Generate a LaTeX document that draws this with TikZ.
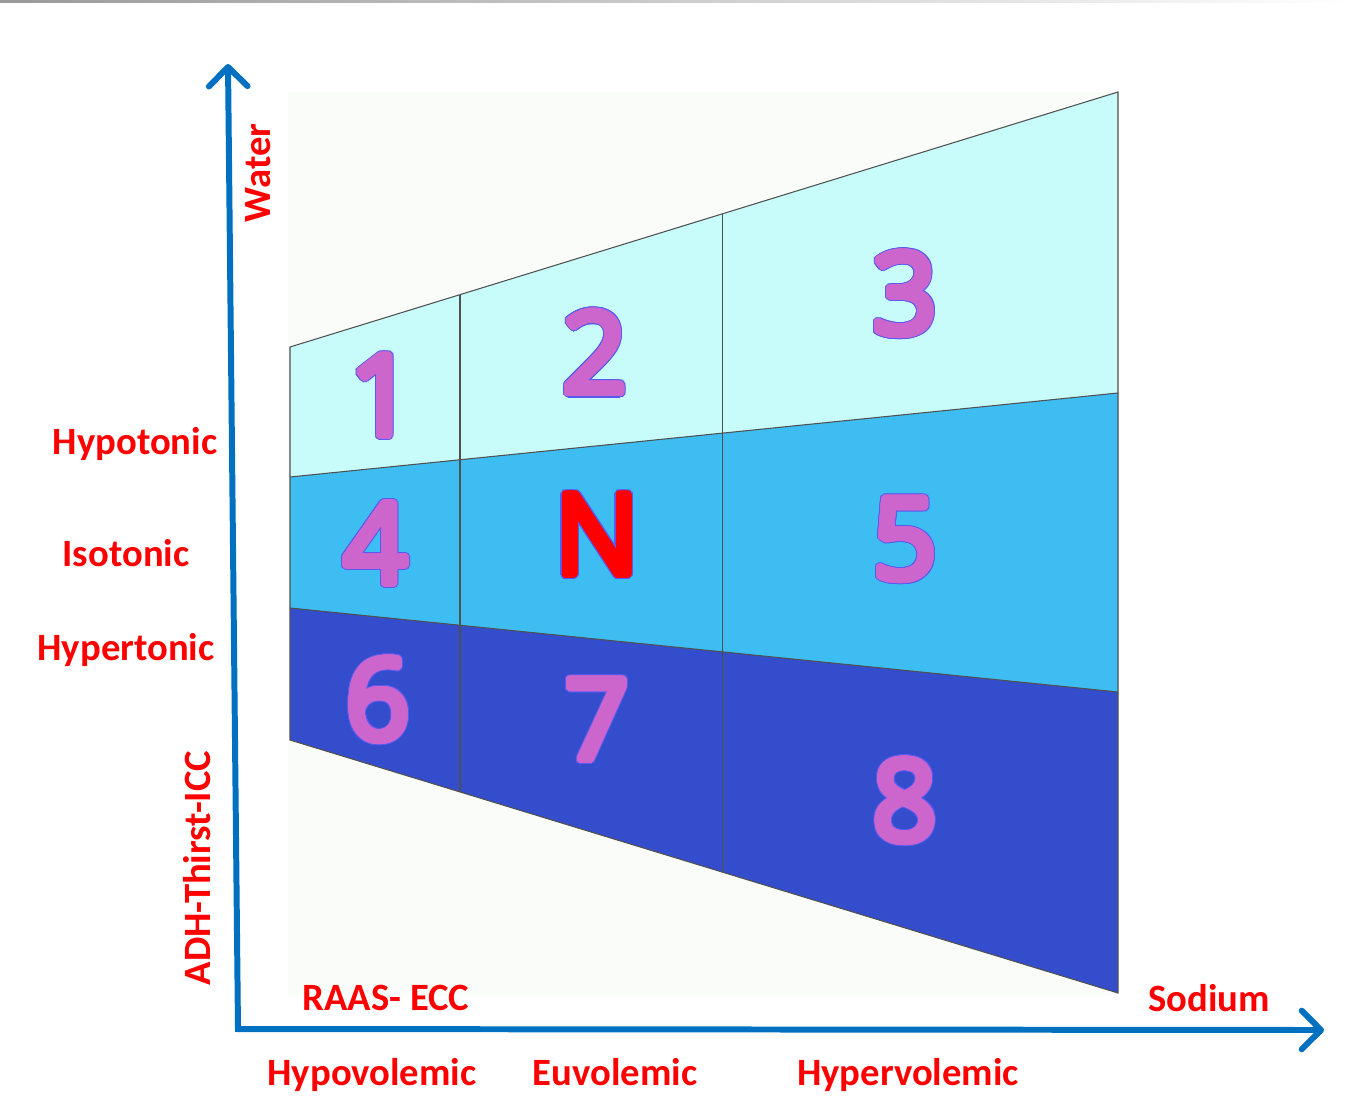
\documentclass[tikz,border=0pt]{standalone}
\usepackage{fontspec}
\setmainfont{Carlito}
\newfontfamily\digfont{Open Sans}
\usepackage[copies]{contour}
\contournumber{32}
\usetikzlibrary{arrows.meta,calc}
\definecolor{rowone}{HTML}{C8FCFA}
\definecolor{rowtwo}{HTML}{3DBDF2}
\definecolor{rowthree}{HTML}{344DCC}
\definecolor{digpink}{HTML}{CC66CC}
\definecolor{digline}{HTML}{5A5AF0}
\definecolor{axisblue}{HTML}{0070C0}
\definecolor{faint}{HTML}{FAFCFA}
\definecolor{edge}{HTML}{505050}
\newcommand{\digit}[2]{\digfont\fontsize{64}{72}\selectfont\rlap{\contourlength{2.7pt}\contour{digline}{\textcolor{digline}{#2}}}\contourlength{2.0pt}\contour{#1}{\textcolor{#1}{#2}}}
\begin{document}
\begin{tikzpicture}[x=0.02cm,y=-0.02cm,
  lab/.style={text=red,font=\bfseries\fontsize{22}{26}\selectfont,inner sep=0pt},
  dig/.style={inner sep=0pt},
  axisline/.style={draw=axisblue,line width=3.4pt,line join=miter},
  barb/.tip={Straight Barb[length=11pt,width=22pt,line cap=round,line join=round]},
  gridline/.style={draw=edge,line width=0.6pt}]
\useasboundingbox (0,0) rectangle (1349,1109);
\fill[white] (0,0) rectangle (1349,1109);
\shade[left color=gray!80,right color=white] (0,0) rectangle (1349,2.5);
\fill[faint] (288,92) rectangle (1118,995);
% corners
\coordinate (TL) at (290,347);
\coordinate (TR) at (1118,92);
\coordinate (AL) at (290,477);
\coordinate (AR) at (1118,393);
\coordinate (BL) at (290,608);
\coordinate (BR) at (1118,692);
\coordinate (OL) at (290,740);
\coordinate (OR) at (1118,993);
% divider points
\coordinate (T1) at ($(TL)!0.2053!(TR)$);
\coordinate (T2) at ($(TL)!0.5229!(TR)$);
\coordinate (O1) at ($(OL)!0.2053!(OR)$);
\coordinate (O2) at ($(OL)!0.5229!(OR)$);
% rows
\fill[rowone] (TL) -- (TR) -- (AR) -- (AL) -- cycle;
\fill[rowtwo] (AL) -- (AR) -- (BR) -- (BL) -- cycle;
\fill[rowthree] (BL) -- (BR) -- (OR) -- (OL) -- cycle;
\draw[gridline] (TL) -- (TR) -- (OR) -- (OL) -- cycle;
\draw[gridline] (AL) -- (AR);
\draw[gridline] (BL) -- (BR);
\draw[gridline] (T1) -- (O1);
\draw[gridline] (T2) -- (O2);
% digits
\foreach \nm/\px/\py/\tx in {d1/382/398/1, d2/595/355/2, d3/905/296/3, d4/376/546/4, d5/905/542/5, d6/378/702/6, d7/597/722/7, d8/905/803/8}{
  \node[dig] (\nm) at (\px,\py) {\digit{digpink}{\tx}};
}
\node[dig] (dN) at (597,537) {\digit{red}{N}};
% axes
\coordinate (orig) at (238,1029);
\coordinate (ytip) at (228,64);
\coordinate (xtip) at (1324,1030);
\draw[axisline,barb-barb] (xtip) -- (orig) -- (ytip);
% labels
\node[lab,rotate=90] (water) at (258,173) {Water};
\node[lab,rotate=90] (adh) at (197,868) {ADH-Thirst-ICC};
\node[lab] (hypo) at (135,444) {Hypotonic};
\node[lab] (iso) at (126,553) {Isotonic};
\node[lab] (hyper) at (126,650) {Hypertonic};
\node[lab] (raas) at (386,998) {RAAS- ECC};
\node[lab] (sodium) at (1209,998) {Sodium};
\node[lab,anchor=base] (hypov) at (372,1085) {Hypovolemic};
\node[lab,anchor=base] (euv) at (615,1085) {Euvolemic};
\node[lab,anchor=base] (hyperv) at (908,1085) {Hypervolemic};
\end{tikzpicture}
\end{document}
